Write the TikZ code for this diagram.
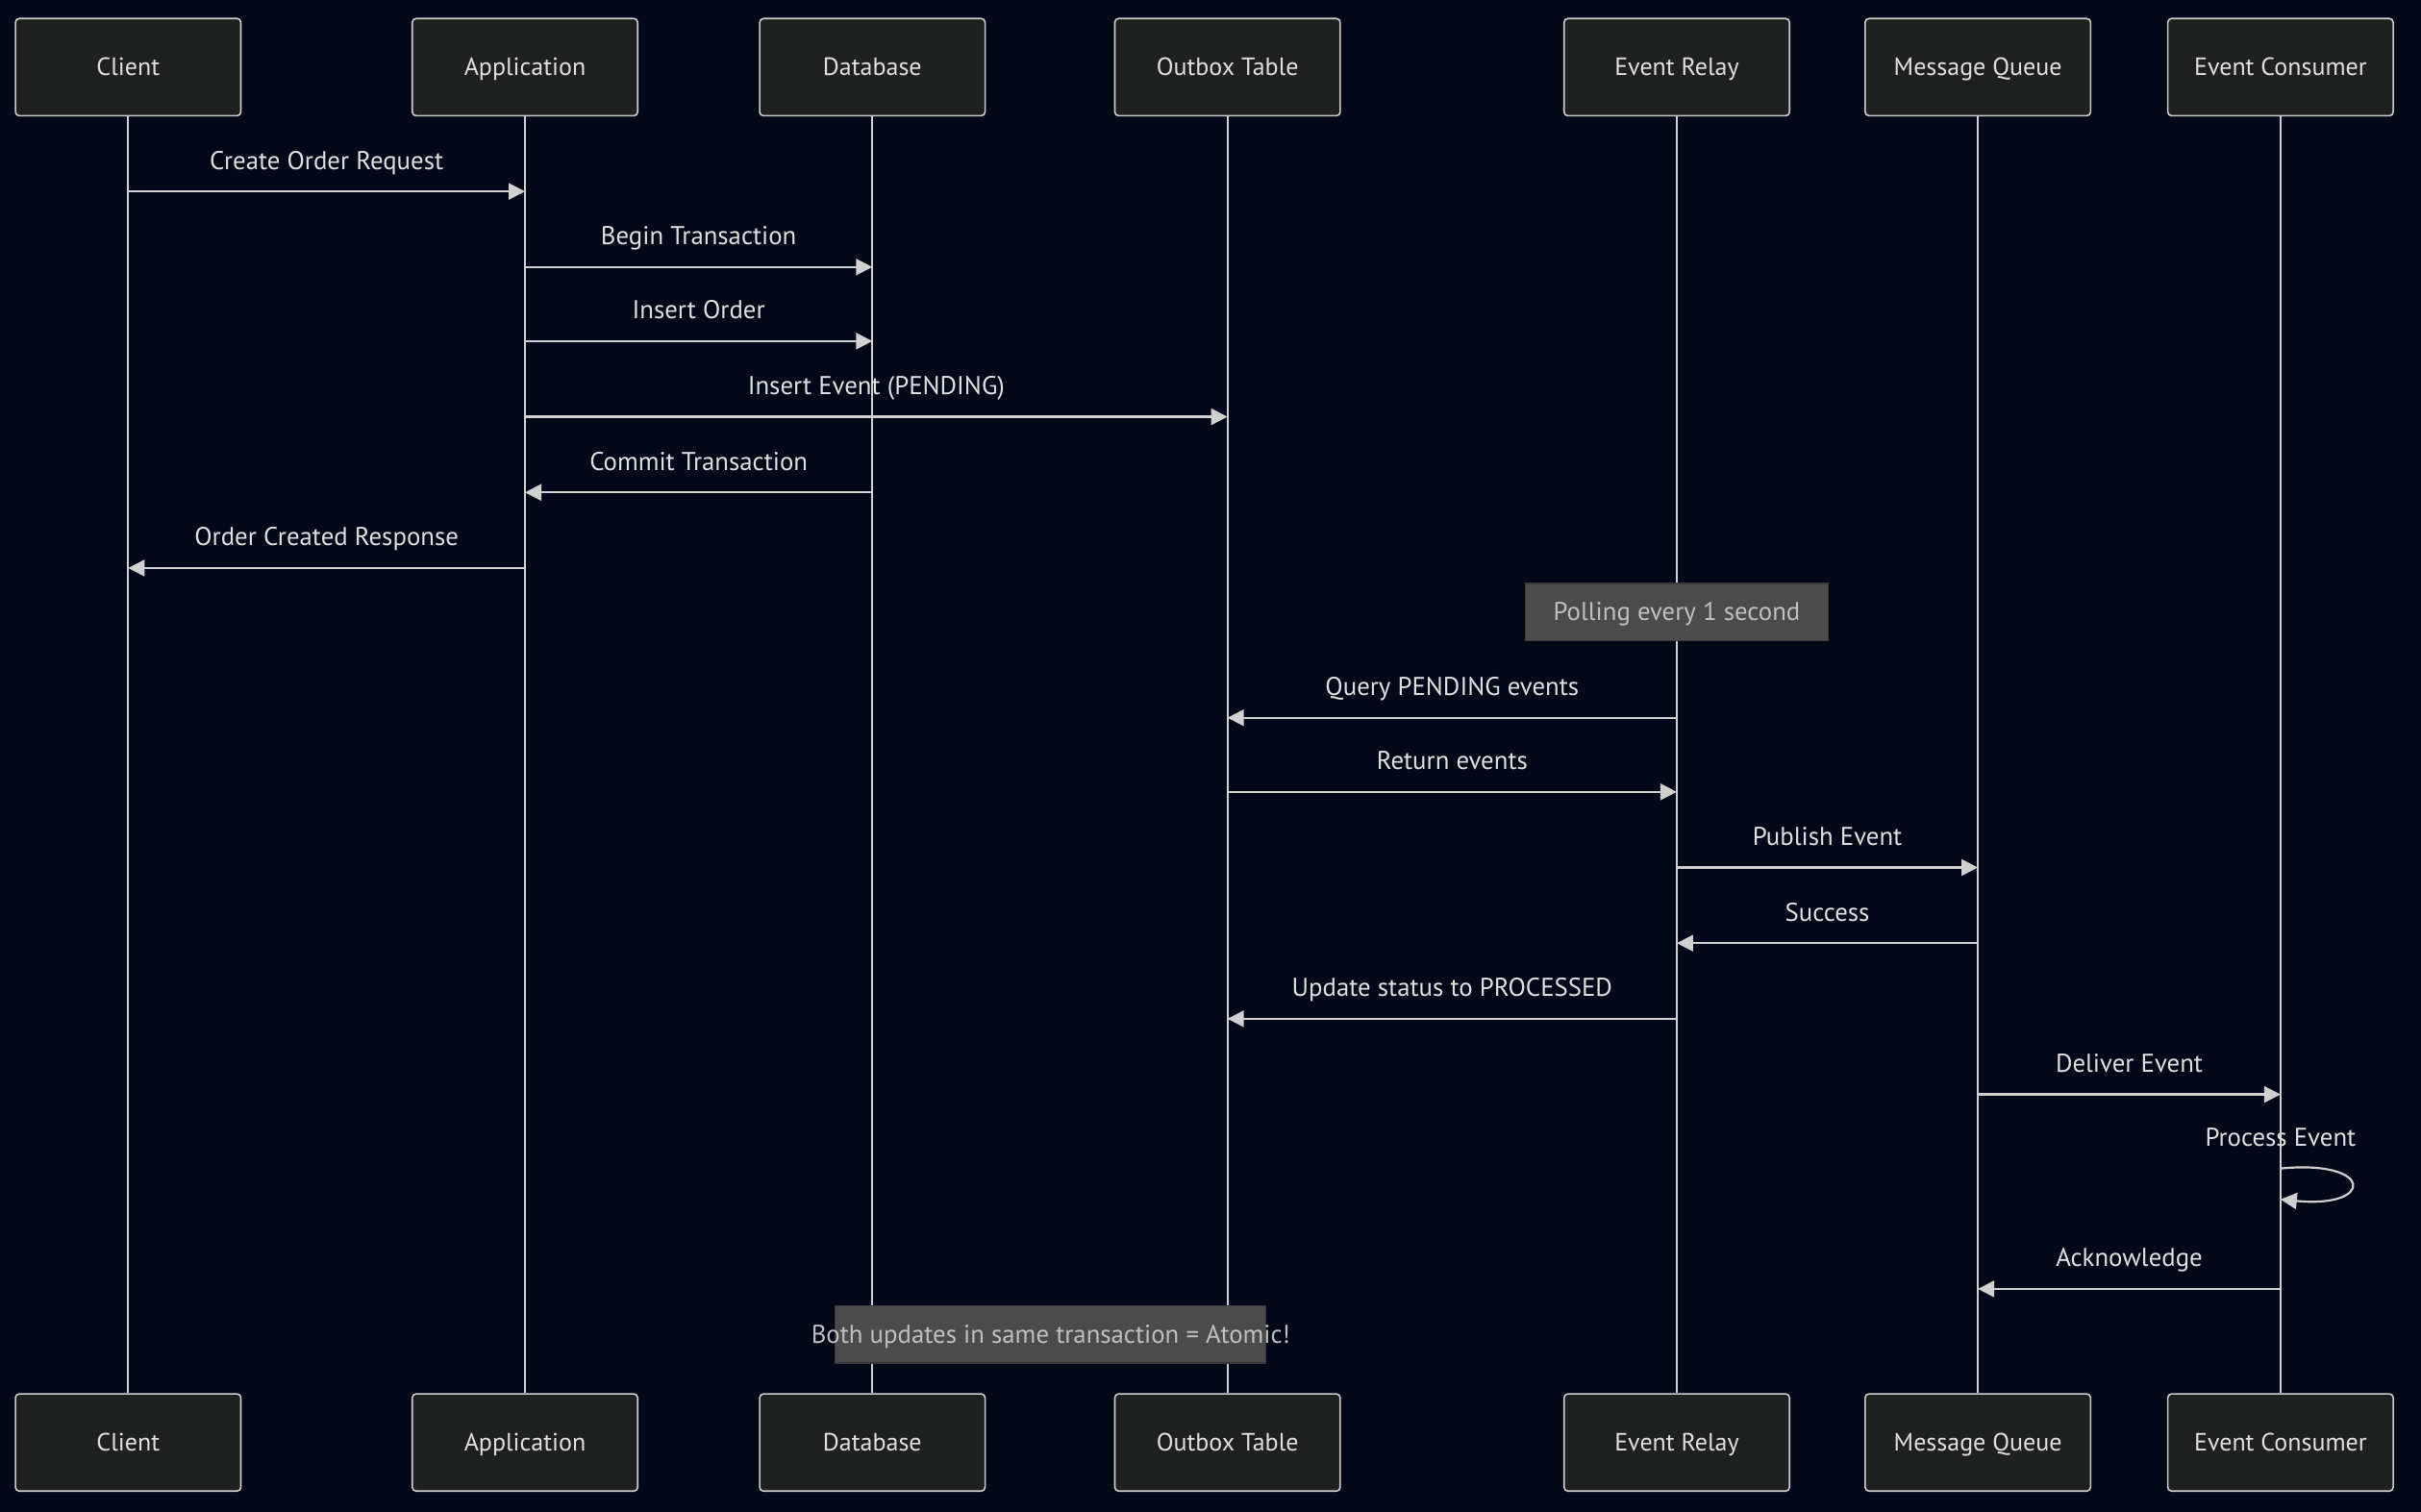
\documentclass[tikz,border=0pt]{standalone}
\usepackage{fontspec}
\setmainfont{PT Sans}
\usetikzlibrary{arrows.meta,calc}
\definecolor{bg}{HTML}{020817}
\definecolor{boxfill}{HTML}{1F2020}
\definecolor{boxline}{HTML}{CCCCCC}
\definecolor{lineclr}{HTML}{D0D0D0}
\definecolor{txt}{HTML}{E0E0E0}
\definecolor{notefill}{HTML}{4A4B4A}
\definecolor{noteline}{HTML}{3A3A3A}
\definecolor{notetxt}{HTML}{C0C0C0}
\tikzset{
  actor/.style={draw=boxline, fill=boxfill, rounded corners=2pt, line width=0.8pt,
    minimum width=146*0.803pt, minimum height=63*0.803pt, inner sep=0pt,
    text height=10.5pt, text depth=1.6pt,
    text=txt, font=\fontsize{13}{15}\selectfont},
  life/.style={draw=lineclr, line width=1.1pt},
  msg/.style={draw=lineclr, line width=1.1pt, -{Triangle[length=8.5pt,width=8.5pt]}},
  lbl/.style={text=txt, font=\fontsize{13.4}{15}\selectfont, anchor=base, inner sep=0pt},
  notebox/.style={draw=noteline, fill=notefill, line width=0.6pt, inner sep=0pt},
  notetext/.style={text=notetxt, font=\fontsize{13.4}{15}\selectfont, inner sep=0pt}
}
\begin{document}
\begin{tikzpicture}[x=0.803pt,y=-0.803pt]
\useasboundingbox (0,0) rectangle (1568,979);
\fill[bg] (-2,-2) rectangle (1570,981);
% actors top
\foreach \n/\x/\t in {A/83/Client, B/340/Application, C/565/Database, D/795/Outbox Table, E/1086/Event Relay, F/1281/Message Queue, G/1477/Event Consumer}{
  \node[actor] (t\n) at (\x,43.5) {\t};
  \node[actor] (b\n) at (\x,934.5) {\t};
  \draw[life] (t\n.south) -- (b\n.north);
}
% messages
\draw[msg] (tA.south |- 0,124) -- node[lbl, yshift=11.5pt]{Create Order Request} (tB.south |- 0,124);
\draw[msg] (tB.south |- 0,173) -- node[lbl, yshift=11.5pt]{Begin Transaction} (tC.south |- 0,173);
\draw[msg] (tB.south |- 0,221) -- node[lbl, yshift=11.5pt]{Insert Order} (tC.south |- 0,221);
\draw[msg] (tB.south |- 0,270) -- node[lbl, yshift=11.5pt]{Insert Event (PENDING)} (tD.south |- 0,270);
\draw[msg] (tC.south |- 0,319) -- node[lbl, yshift=11.5pt]{Commit Transaction} (tB.south |- 0,319);
\draw[msg] (tB.south |- 0,368) -- node[lbl, yshift=11.5pt]{Order Created Response} (tA.south |- 0,368);
% note 1
\node[notebox, minimum width=196*0.803pt, minimum height=37*0.803pt] (n1) at (1086,396.5) {};
\node[notetext, anchor=base] (n1t) at (1086,402) {Polling every 1 second};
\draw[msg] (tE.south |- 0,465) -- node[lbl, yshift=11.5pt]{Query PENDING events} (tD.south |- 0,465);
\draw[msg] (tD.south |- 0,513) -- node[lbl, yshift=11.5pt]{Return events} (tE.south |- 0,513);
\draw[msg] (tE.south |- 0,562) -- node[lbl, yshift=11.5pt]{Publish Event} (tF.south |- 0,562);
\draw[msg] (tF.south |- 0,611) -- node[lbl, yshift=11.5pt]{Success} (tE.south |- 0,611);
\draw[msg] (tE.south |- 0,660) -- node[lbl, yshift=11.5pt]{Update status to PROCESSED} (tD.south |- 0,660);
\draw[msg] (tF.south |- 0,709) -- node[lbl, yshift=11.5pt]{Deliver Event} (tG.south |- 0,709);
% self loop
\coordinate (s1) at (1477,757);
\coordinate (s2) at (1477,777);
\node[lbl] (pe) at (1477,742.5) {Process Event};
\draw[msg] (s1) .. controls (1538,751) and (1538,783) .. (s2);
\draw[msg] (tG.south |- 0,835) -- node[lbl, yshift=11.5pt]{Acknowledge} (tF.south |- 0,835);
% note 2
\node[notebox, minimum width=279*0.803pt, minimum height=37*0.803pt] (n2) at (680.5,864.5) {};
\node[notetext, anchor=base] (n2t) at (680.5,870) {Both updates in same transaction = Atomic!};
\end{tikzpicture}
\end{document}
